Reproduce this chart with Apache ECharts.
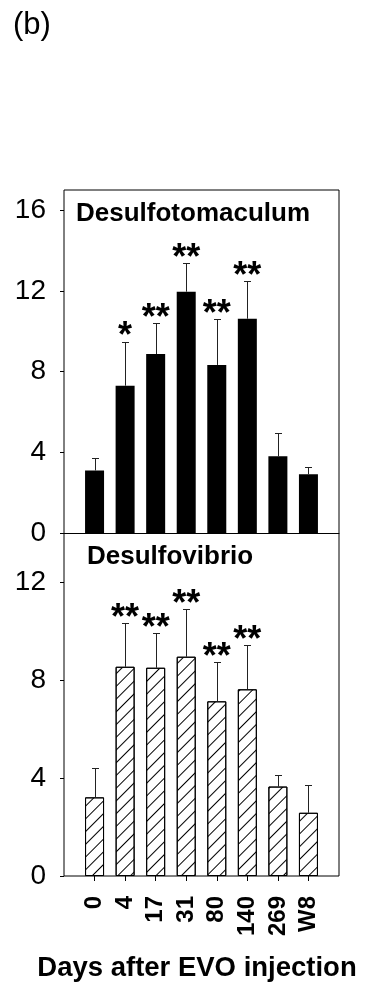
<!DOCTYPE html>
<html>
<head>
<meta charset="utf-8">
<script src="https://cdn.jsdelivr.net/npm/echarts@6/dist/echarts.min.js"></script>
<style>
html,body{margin:0;padding:0;background:#fff;}
#chart{width:368px;height:993px;}
</style>
</head>
<body>
<div id="chart"></div>
<script>
const categories = ['0', '4', '17', '31', '80', '140', '269', 'W8'];
const desulfotomaculumMean = [3.1, 7.3, 8.87, 11.96, 8.33, 10.62, 3.8, 2.91];
const desulfotomaculumErr = [0.62, 2.19, 1.55, 1.43, 2.27, 1.86, 1.17, 0.38];
const desulfotomaculumSig = ['', '*', '**', '**', '**', '**', '', ''];
const desulfovibrioMean = [3.21, 8.54, 8.5, 8.95, 7.13, 7.62, 3.65, 2.58];
const desulfovibrioErr = [1.21, 1.79, 1.4, 1.95, 1.59, 1.82, 0.46, 1.12];
const desulfovibrioSig = ['', '**', '**', '**', '**', '**', '', ''];
const topAxisMax = 16;      // top panel frame reaches 17
const bottomAxisMax = 12;   // bottom panel frame reaches 14
const tickStep = 4;
const panelTitles = ['Desulfotomaculum', 'Desulfovibrio'];
const xTitle = 'Days after EVO injection';
const panelLabel = '(b)';

const FONT = '"Liberation Sans", Arial, sans-serif';
// padded category list: one empty slot on each side of the bars
const paddedCats = [''].concat(categories, ['']);
const innerTick = (i) => i > 0 && i < paddedCats.length - 1;

// layout (pixels)
const L = 64, R = 29, FRAME_TOP = 190, MID = 533, BOTTOM = 876;
const topH = (MID - FRAME_TOP) * topAxisMax / 17;
const botH = (BOTTOM - MID) * bottomAxisMax / 14;

function errSeries(gridIdx, means, errs, sigs) {
  return {
    type: 'custom',
    xAxisIndex: gridIdx, yAxisIndex: gridIdx,
    z: 5, clip: false,
    data: means.map((m, i) => [i + 1, m, errs[i]]),
    renderItem: function (params, api) {
      const x = api.value(0), m = api.value(1), e = api.value(2);
      const p0 = api.coord([x, m]);
      const p1 = api.coord([x, m + e]);
      const cx = Math.round(p0[0]) + 0.5;
      const cy = Math.round(p1[1]) + 0.5;
      const sig = sigs[params.dataIndex];
      const children = [
        {type: 'line', shape: {x1: cx, y1: p0[1], x2: cx, y2: cy}, style: {stroke: '#222', lineWidth: 1}},
        {type: 'line', shape: {x1: cx - 3.5, y1: cy, x2: cx + 3.5, y2: cy}, style: {stroke: '#222', lineWidth: 1}}
      ];
      if (sig) {
        children.push({type: 'text', style: {text: sig, x: p0[0], y: p1[1] - 4, align: 'center', verticalAlign: 'middle', font: 'bold 36px ' + FONT, fill: '#000'}});
      }
      return {type: 'group', children: children};
    }
  };
}

const chart = echarts.init(document.getElementById('chart'), null, {renderer: 'canvas'});
chart.setOption({
  animation: false,
  backgroundColor: '#fff',
  grid: [
    {left: L, right: R, top: MID - topH, height: topH, show: false},
    {left: L, right: R, top: BOTTOM - botH, height: botH, show: false},
    {left: L, right: R, top: FRAME_TOP, height: BOTTOM - FRAME_TOP, show: true, borderColor: '#000', borderWidth: 1, backgroundColor: 'transparent'}
  ],
  xAxis: [
    {gridIndex: 0, type: 'category', data: paddedCats, boundaryGap: false,
     axisLine: {show: true, lineStyle: {color: '#000', width: 1}}, axisTick: {show: false}, axisLabel: {show: false}, splitLine: {show: false}},
    {gridIndex: 1, type: 'category', data: paddedCats, boundaryGap: false,
     axisLine: {show: false}, splitLine: {show: false},
     axisTick: {show: true, interval: innerTick, length: 5, lineStyle: {color: '#000'}},
     axisLabel: {interval: innerTick, rotate: 90, margin: 20, fontSize: 24, fontWeight: 'bold', color: '#000', fontFamily: FONT}},
    {gridIndex: 2, type: 'value', show: false}
  ],
  yAxis: [
    {gridIndex: 0, type: 'value', min: 0, max: topAxisMax, interval: tickStep, axisLine: {show: false}, splitLine: {show: false},
     axisTick: {show: true, length: 4, lineStyle: {color: '#000'}},
     axisLabel: {margin: 18, fontSize: 28, color: '#000', fontFamily: FONT}},
    {gridIndex: 1, type: 'value', min: 0, max: bottomAxisMax, interval: tickStep, axisLine: {show: false}, splitLine: {show: false},
     axisTick: {show: true, length: 4, lineStyle: {color: '#000'}},
     axisLabel: {margin: 18, fontSize: 28, color: '#000', fontFamily: FONT}},
    {gridIndex: 2, type: 'value', show: false}
  ],
  series: [
    {type: 'bar', xAxisIndex: 0, yAxisIndex: 0, barWidth: 19, data: desulfotomaculumMean.map((v, i) => [i + 1, v]),
     itemStyle: {color: '#000', borderWidth: 0}},
    {type: 'bar', xAxisIndex: 1, yAxisIndex: 1, barWidth: 19, data: desulfovibrioMean.map((v, i) => [i + 1, v]),
     itemStyle: {color: '#fff', borderColor: '#000', borderWidth: 1,
       decal: {symbol: 'rect', symbolSize: 1, dashArrayX: [1, 0], dashArrayY: [1, 7.5], rotation: -Math.PI / 4, color: '#000'}}},
    errSeries(0, desulfotomaculumMean, desulfotomaculumErr, desulfotomaculumSig),
    errSeries(1, desulfovibrioMean, desulfovibrioErr, desulfovibrioSig)
  ],
  graphic: [
    {type: 'text', left: 13, top: 10, style: {text: panelLabel, font: '31px ' + FONT, fill: '#000'}},
    {type: 'text', left: 76, top: 201, style: {text: panelTitles[0], font: 'bold 26px ' + FONT, fill: '#000'}},
    {type: 'text', left: 87, top: 544, style: {text: panelTitles[1], font: 'bold 26px ' + FONT, fill: '#000'}},
    {type: 'text', x: 197, y: 968, style: {text: xTitle, font: 'bold 27.5px ' + FONT, fill: '#000', align: 'center', verticalAlign: 'middle'}}
  ]
});
</script>
</body>
</html>
